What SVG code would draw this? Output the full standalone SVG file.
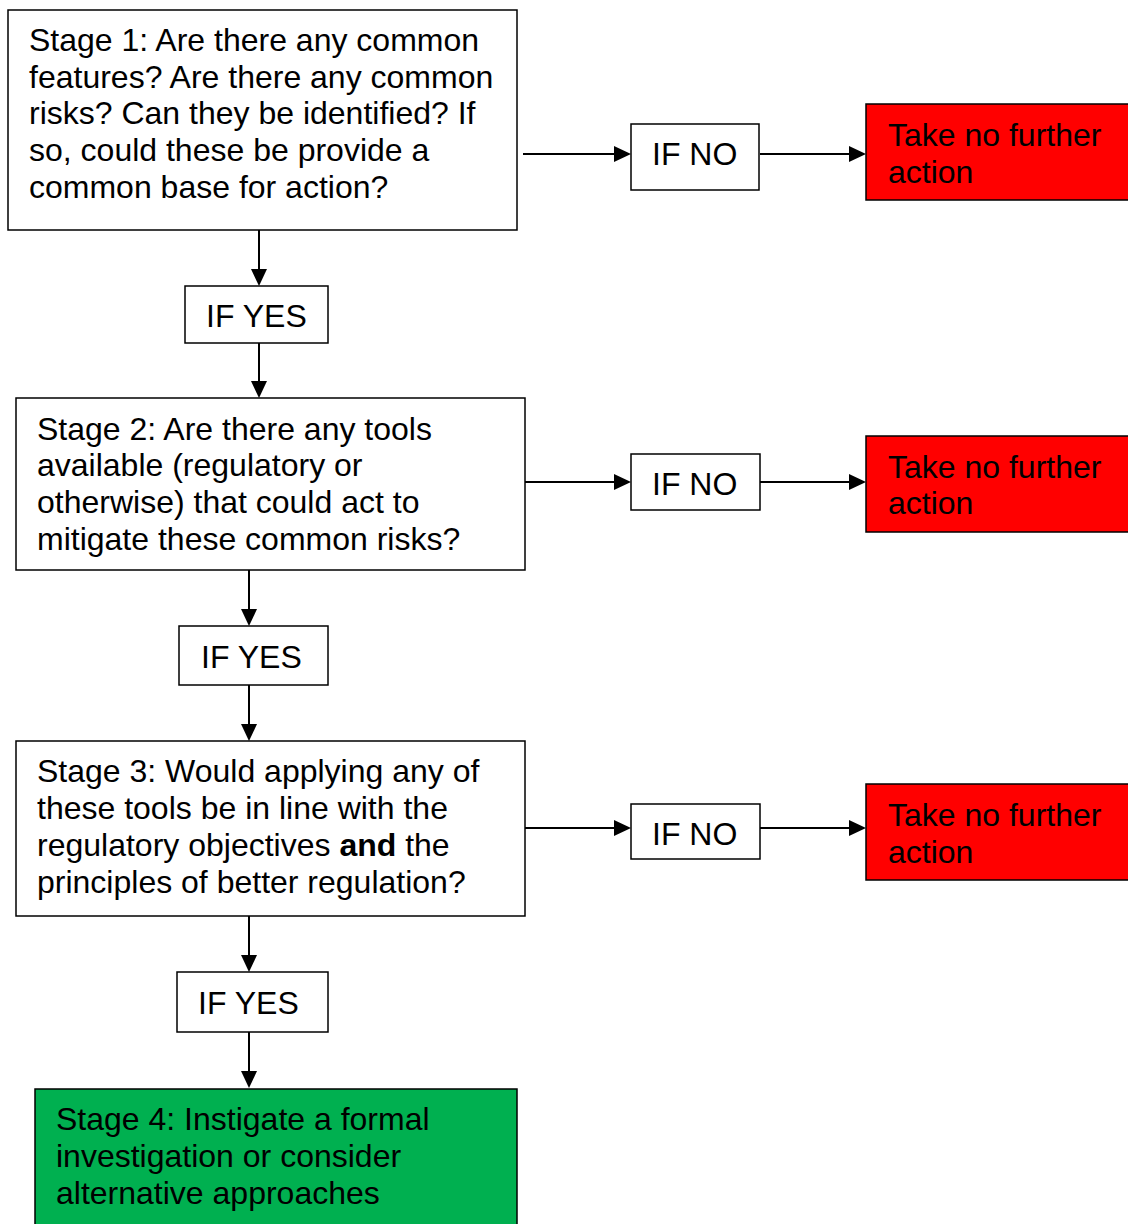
<svg xmlns="http://www.w3.org/2000/svg" width="1128" height="1224" viewBox="0 0 1128 1224">
<style>
.b{fill:#fff;stroke:#000;stroke-width:1.5}
.r{fill:#ff0000;stroke:#000;stroke-width:1.5}
.g{fill:#00b050;stroke:#000;stroke-width:1.5}
text{font-family:"Liberation Sans",Arial,sans-serif;font-size:32px;fill:#000}
.c line{stroke:#000;stroke-width:2}
</style>
<rect width="1128" height="1224" fill="#fff"/>
<g class="c" id="connectors">
<line x1="523" y1="154" x2="616" y2="154"/>
<path d="M614,146 L631,154 L614,162 z" fill="#000"/>
<line x1="760" y1="154" x2="851" y2="154"/>
<path d="M849,146 L866,154 L849,162 z" fill="#000"/>
<line x1="525" y1="482" x2="616" y2="482"/>
<path d="M614,474 L631,482 L614,490 z" fill="#000"/>
<line x1="760" y1="482" x2="851" y2="482"/>
<path d="M849,474 L866,482 L849,490 z" fill="#000"/>
<line x1="525" y1="828" x2="616" y2="828"/>
<path d="M614,820 L631,828 L614,836 z" fill="#000"/>
<line x1="760" y1="828" x2="851" y2="828"/>
<path d="M849,820 L866,828 L849,836 z" fill="#000"/>
<line x1="259" y1="230" x2="259" y2="271"/>
<path d="M251,269 L259,286 L267,269 z" fill="#000"/>
<line x1="259" y1="343" x2="259" y2="383"/>
<path d="M251,381 L259,398 L267,381 z" fill="#000"/>
<line x1="249" y1="570" x2="249" y2="611"/>
<path d="M241,609 L249,626 L257,609 z" fill="#000"/>
<line x1="249" y1="685" x2="249" y2="726"/>
<path d="M241,724 L249,741 L257,724 z" fill="#000"/>
<line x1="249" y1="916" x2="249" y2="957"/>
<path d="M241,955 L249,972 L257,955 z" fill="#000"/>
<line x1="249" y1="1032" x2="249" y2="1073"/>
<path d="M241,1071 L249,1088 L257,1071 z" fill="#000"/>
</g>
<g id="stage1"><rect class="b" x="8" y="10" width="509" height="220"/>
<text x="29" y="51">Stage 1: Are there any common</text>
<text x="29" y="88">features? Are there any common</text>
<text x="29" y="124">risks? Can they be identified? If</text>
<text x="29" y="161">so, could these be provide a</text>
<text x="29" y="198">common base for action?</text></g>
<g id="no1"><rect class="b" x="631" y="124" width="128" height="66"/><text x="652" y="165">IF NO</text></g>
<g id="stop1"><rect class="r" x="866" y="104" width="270" height="96"/><text x="888" y="146">Take no further</text><text x="888" y="183">action</text></g>
<g id="yes1"><rect class="b" x="185" y="286" width="143" height="57"/><text x="206" y="327">IF YES</text></g>
<g id="stage2"><rect class="b" x="16" y="398" width="509" height="172"/>
<text x="37" y="440">Stage 2: Are there any tools</text>
<text x="37" y="476">available (regulatory or</text>
<text x="37" y="513">otherwise) that could act to</text>
<text x="37" y="550">mitigate these common risks?</text></g>
<g id="no2"><rect class="b" x="631" y="454" width="129" height="56"/><text x="652" y="495">IF NO</text></g>
<g id="stop2"><rect class="r" x="866" y="436" width="270" height="96"/><text x="888" y="478">Take no further</text><text x="888" y="514">action</text></g>
<g id="yes2"><rect class="b" x="179" y="626" width="149" height="59"/><text x="201" y="668">IF YES</text></g>
<g id="stage3"><rect class="b" x="16" y="741" width="509" height="175"/>
<text x="37" y="782">Stage 3: Would applying any of</text>
<text x="37" y="819">these tools be in line with the</text>
<text x="37" y="856">regulatory objectives <tspan font-weight="bold">and</tspan> the</text>
<text x="37" y="893">principles of better regulation?</text></g>
<g id="no3"><rect class="b" x="631" y="804" width="129" height="55"/><text x="652" y="845">IF NO</text></g>
<g id="stop3"><rect class="r" x="866" y="784" width="270" height="96"/><text x="888" y="826">Take no further</text><text x="888" y="863">action</text></g>
<g id="yes3"><rect class="b" x="177" y="972" width="151" height="60"/><text x="198" y="1014">IF YES</text></g>
<g id="stage4"><rect class="g" x="35" y="1089" width="482" height="150"/>
<text x="56" y="1130">Stage 4: Instigate a formal</text>
<text x="56" y="1167">investigation or consider</text>
<text x="56" y="1204">alternative approaches</text></g>
</svg>
